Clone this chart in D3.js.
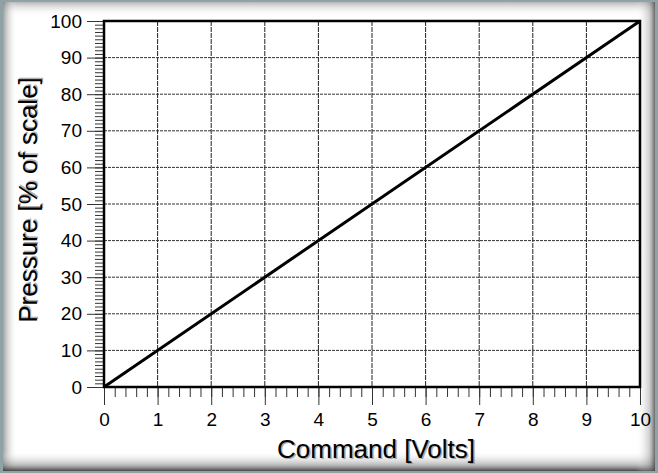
<!DOCTYPE html>
<html>
<head>
<meta charset="utf-8">
<script src="https://cdn.jsdelivr.net/npm/d3@7"></script>
<style>
  body { margin: 0; background: #fff; }
  svg { display: block; }
</style>
</head>
<body>
<svg id="svg1" width="658" height="473"></svg>
<script>
// data
var commandVolts = [0, 10]
var pressurePct = [0, 100]
var xTicks = [0, 1, 2, 3, 4, 5, 6, 7, 8, 9, 10]
var yTicks = [0, 10, 20, 30, 40, 50, 60, 70, 80, 90, 100]
var xTitle = "Command [Volts]"
var yTitle = "Pressure [% of scale]"

var W = 658, H = 473
var svg = d3.select("#svg1")
var defs = svg.append("defs")

// frame with shaded edges
svg.append("rect").attr("width", W).attr("height", H).attr("fill", "#8fa2a6")
svg.append("rect").attr("x", 3).attr("y", 2).attr("width", W - 6).attr("height", H - 4).attr("fill", "#fff")

function grad(id, x1, y1, x2, y2, stops) {
  var g = defs.append("linearGradient").attr("id", id)
    .attr("x1", x1).attr("y1", y1).attr("x2", x2).attr("y2", y2)
  stops.forEach(function (s) {
    g.append("stop").attr("offset", s[0]).attr("stop-color", s[1]).attr("stop-opacity", s[2])
  })
}
grad("gTop", 0, 0, 0, 1, [[0, "#888", 0.6], [1, "#fff", 0]])
grad("gLeft", 0, 0, 1, 0, [[0, "#777", 0.7], [1, "#fff", 0]])
grad("gBottom", 0, 1, 0, 0, [[0, "#333", 0.9], [0.3, "#777", 0.5], [1, "#fff", 0]])
grad("gRight", 1, 0, 0, 0, [[0, "#444", 0.8], [0.3, "#888", 0.4], [1, "#fff", 0]])

svg.append("rect").attr("x", 3).attr("y", 2).attr("width", W - 6).attr("height", 14).attr("fill", "url(#gTop)")
svg.append("rect").attr("x", 3).attr("y", 2).attr("width", 14).attr("height", H - 4).attr("fill", "url(#gLeft)")
svg.append("rect").attr("x", 3).attr("y", H - 22).attr("width", W - 6).attr("height", 20).attr("fill", "url(#gBottom)")
svg.append("rect").attr("x", W - 22).attr("y", 2).attr("width", 19).attr("height", H - 4).attr("fill", "url(#gRight)")

var pL = 104, pR = 640, pT = 21, pB = 387
var x = d3.scaleLinear().domain([0, 10]).range([pL, pR])
var y = d3.scaleLinear().domain([0, 100]).range([pB, pT])

var font = "'Liberation Sans', Arial, sans-serif"

// grid
svg.append("g").selectAll("line").data(xTicks.slice(1, -1)).join("line")
  .attr("x1", d => x(d)).attr("x2", d => x(d))
  .attr("y1", pT).attr("y2", pB)
  .attr("stroke", "#222").attr("stroke-width", 1).attr("stroke-dasharray", "5,1")
svg.append("g").selectAll("line").data(yTicks.slice(1, -1)).join("line")
  .attr("x1", pL).attr("x2", pR)
  .attr("y1", d => y(d)).attr("y2", d => y(d))
  .attr("stroke", "#333").attr("stroke-width", 1).attr("stroke-dasharray", "3,1")

// axes
var xMinor = d3.range(0, 10.001, 0.2)
var yMinor = d3.range(0, 100.001, 1)

var gx = svg.append("g").attr("transform", "translate(0," + pB + ")")
gx.call(d3.axisBottom(x).tickValues(xMinor).tickSize(10).tickFormat(""))
gx.call(g => g.select(".domain").remove())
var gx2 = svg.append("g").attr("transform", "translate(0," + pB + ")")
  .call(d3.axisBottom(x).tickValues(xTicks).tickSize(18).tickPadding(8).tickFormat(d3.format("d")))
gx2.select(".domain").remove()
gx2.selectAll("text").attr("font-family", font).attr("font-size", 19).attr("fill", "#000")

var gy = svg.append("g").attr("transform", "translate(" + pL + ",0)")
gy.call(d3.axisLeft(y).tickValues(yMinor).tickSize(9).tickFormat(""))
gy.select(".domain").remove()
var gy2 = svg.append("g").attr("transform", "translate(" + pL + ",0)")
  .call(d3.axisLeft(y).tickValues(yTicks).tickSize(17).tickPadding(5).tickFormat(d3.format("d")))
gy2.select(".domain").remove()
gy2.selectAll("text").attr("font-family", font).attr("font-size", 19).attr("fill", "#000")

svg.selectAll(".tick line").attr("stroke", "#333").attr("stroke-width", 1)

// frame
svg.append("rect").attr("x", pL).attr("y", pT).attr("width", pR - pL).attr("height", pB - pT)
  .attr("fill", "none").attr("stroke", "#000").attr("stroke-width", 2.5)

// series
svg.append("path")
  .datum(commandVolts.map((v, i) => [v, pressurePct[i]]))
  .attr("d", d3.line().x(d => x(d[0])).y(d => y(d[1])))
  .attr("fill", "none").attr("stroke", "#000").attr("stroke-width", 3)

// titles (with a soft offset shadow)
function title(tr, txt) {
  svg.append("text").attr("transform", tr)
    .attr("dx", 1.5).attr("dy", 0.5)
    .attr("text-anchor", "middle").attr("font-family", font).attr("font-size", 26)
    .attr("fill", "#777").attr("opacity", 0.6).text(txt)
  svg.append("text").attr("transform", tr)
    .attr("text-anchor", "middle").attr("font-family", font).attr("font-size", 26)
    .attr("fill", "#000").text(txt)
}
title("translate(376,458)", xTitle)
title("translate(37,200) rotate(-90)", yTitle)
</script>
</body>
</html>
